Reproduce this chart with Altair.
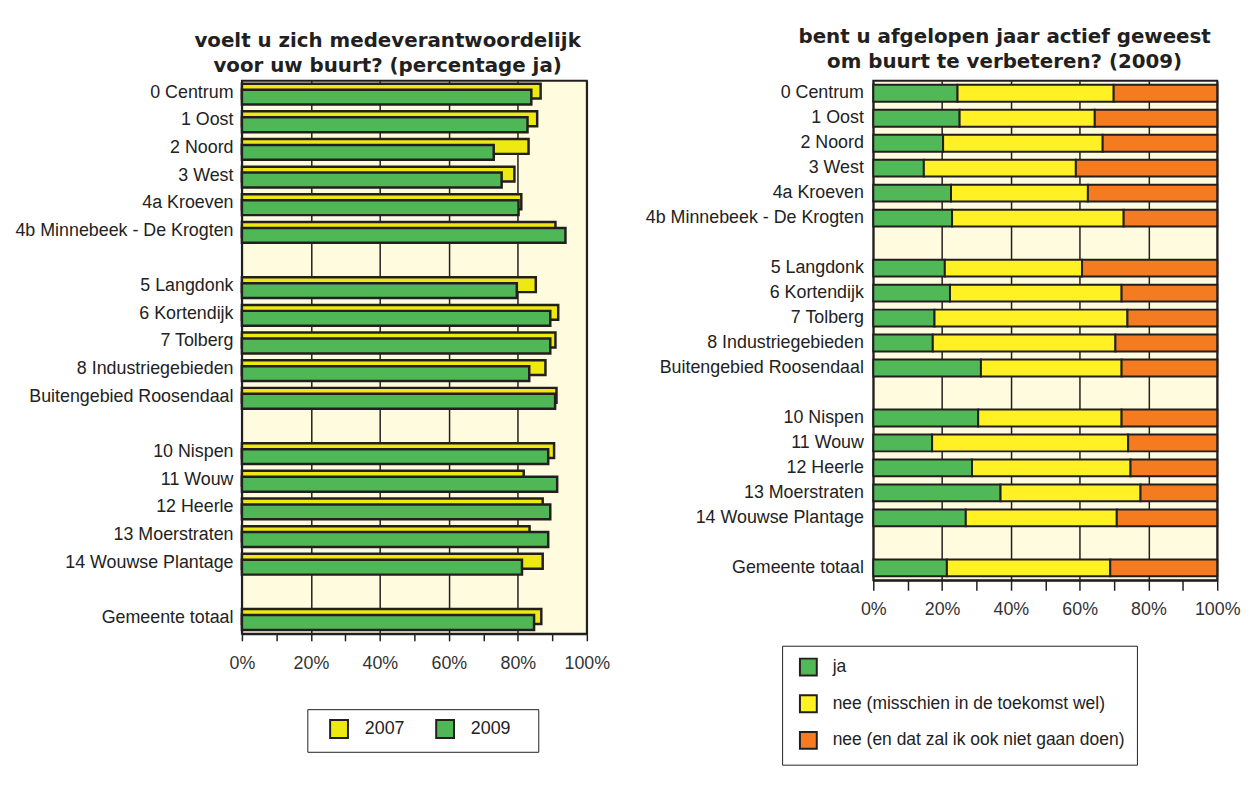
import altair as alt
import pandas as pd

FONT = "Liberation Sans"
TFONT = "DejaVu Sans"
INK = "#231f20"

# rows of both charts (blank strings are the empty separator rows)
areas = ["0 Centrum", "1 Oost", "2 Noord", "3 West", "4a Kroeven",
         "4b Minnebeek - De Krogten", " ",
         "5 Langdonk", "6 Kortendijk", "7 Tolberg", "8 Industriegebieden",
         "Buitengebied Roosendaal", "  ",
         "10 Nispen", "11 Wouw", "12 Heerle", "13 Moerstraten",
         "14 Wouwse Plantage", "   ", "Gemeente totaal"]
labeled = [a for a in areas if a.strip()]

# left: percentage "ja"
years = ["2007", "2009"]
v2007 = [86.6, 85.6, 83.1, 79.0, 81.0, 90.9, 85.2, 91.7, 90.9, 88.0, 91.2,
         90.5, 81.7, 87.2, 83.4, 87.2, 86.8]
v2009 = [83.9, 82.8, 73.0, 75.3, 80.2, 93.8, 79.7, 89.4, 89.4, 83.3, 90.8,
         88.8, 91.4, 89.4, 88.8, 81.2, 84.7]

# right: active in 2009
answers = ["ja", "nee (misschien in de toekomst wel)",
           "nee (en dat zal ik ook niet gaan doen)"]
ja = [24.5, 25.1, 20.3, 14.7, 22.6, 22.9, 20.8, 22.3, 17.8, 17.3, 31.3,
      30.5, 17.1, 28.7, 37.0, 26.9, 21.4]
nee_later = [45.4, 39.3, 46.4, 44.2, 39.8, 49.9, 39.9, 49.9, 56.1, 53.1, 40.9,
             41.7, 57.0, 46.1, 40.7, 43.9, 47.5]
nee_never = [30.1, 35.6, 33.3, 41.1, 37.6, 27.2, 39.3, 27.8, 26.1, 29.6, 27.8,
             27.8, 25.9, 25.2, 22.3, 29.2, 31.1]

x_ticks = list(range(0, 101, 10))

left_df = pd.DataFrame({
    "area": labeled * 2,
    "year": ["2007"] * len(labeled) + ["2009"] * len(labeled),
    "value": v2007 + v2009,
})
rows = []
for i, a in enumerate(labeled):
    for k, (ans, vals) in enumerate(zip(answers, [ja, nee_later, nee_never])):
        rows.append({"area": a, "answer": ans, "idx": k, "value": vals[i]})
right_df = pd.DataFrame(rows)


def xaxis(tick, pad):
    return alt.Axis(
        values=x_ticks,
        labelExpr="datum.value % 20 == 0 ? datum.value + '%' : ''",
        labelFlush=False, labelFontSize=18, labelFont=FONT, labelColor="#333",
        tickColor=INK, tickWidth=1.5, tickSize=tick, labelPadding=pad,
        domainColor=INK, domainWidth=2,
        gridColor=INK, gridWidth=1.5,
        gridOpacity={"condition": {"test": "datum.value % 20 === 0", "value": 1}, "value": 0},
        title=None,
    )


def yaxis(pad, extent, loff):
    return alt.Axis(title=None, ticks=False, domain=False, labelFontSize=18,
                    labelFont=FONT, labelColor="#222", labelPadding=pad,
                    labelOffset=loff,
                    minExtent=extent, maxExtent=extent, labelLimit=400)


# ---------- left chart ----------
yl = alt.Y("area:N", scale=alt.Scale(domain=areas, paddingInner=0, paddingOuter=0),
           axis=yaxis(9, 229, -2))
xl = alt.X("value:Q", scale=alt.Scale(domain=[0, 100], nice=False), axis=xaxis(7, 14))
color_l = alt.Color(
    "year:N",
    scale=alt.Scale(domain=years, range=["#EEE911", "#50B757"]),
    legend=alt.Legend(
        title=" ", titleOrient="right", titleFontSize=1, titlePadding=18,
        orient="none", legendX=66, legendY=634, direction="horizontal",
        symbolType="square", symbolSize=324, symbolStrokeColor=INK,
        symbolStrokeWidth=2, symbolOpacity=1, labelFontSize=18, labelFont=FONT,
        labelColor="#222", labelOffset=16, columnPadding=18, padding=10,
        symbolOffset=12, strokeColor=INK, fillColor="white",
    ),
)
base_l = alt.Chart(left_df)
b07 = base_l.transform_filter("datum.year == '2007'").mark_bar(
    size=15, yOffset=-3.5, stroke=INK, strokeWidth=2.5, opacity=1
).encode(x=xl, y=yl, color=color_l)
b09 = base_l.transform_filter("datum.year == '2009'").mark_bar(
    size=15, yOffset=2.5, stroke=INK, strokeWidth=2.5, opacity=1
).encode(x=xl, y=yl, color=color_l)
left = alt.layer(b07, b09).properties(
    width=348, height=558,
    title=alt.Title(["voelt u zich medeverantwoordelijk", "voor uw buurt? (percentage ja)"],
                    font=TFONT, fontSize=20, fontWeight="bold", color=INK,
                    lineHeight=25, anchor="middle", dx=-27, offset=5),
)

# ---------- right chart ----------
yr = alt.Y("area:N", scale=alt.Scale(domain=areas, paddingInner=0, paddingOuter=0),
           axis=yaxis(10, 225, 0))
right = alt.Chart(right_df).mark_bar(size=17, stroke=INK, strokeWidth=2, opacity=1).encode(
    x=alt.X("value:Q", stack="zero", scale=alt.Scale(domain=[0, 100], nice=False),
            axis=xaxis(10, 10)),
    y=yr,
    color=alt.Color(
        "answer:N",
        scale=alt.Scale(domain=answers, range=["#50B857", "#FFF124", "#F47B20"]),
        legend=alt.Legend(
            title=None, orient="none", legendX=-92, legendY=570, direction="vertical",
            symbolType="square", symbolSize=289, symbolStrokeColor=INK,
            symbolStrokeWidth=2, symbolOpacity=1, labelFontSize=17.6, labelFont=FONT,
            labelColor="#222", labelOffset=15, rowPadding=12, padding=12,
            symbolOffset=5, strokeColor=INK, fillColor="white", labelLimit=500,
        ),
    ),
    order=alt.Order("idx:Q"),
).properties(
    width=347, height=504,
    title=alt.Title(["bent u afgelopen jaar actief geweest", "om buurt te verbeteren? (2009)"],
                    font=TFONT, fontSize=20, fontWeight="bold", color=INK,
                    lineHeight=25, anchor="middle", dx=-41, offset=9),
)

chart = alt.hconcat(left, right, spacing=32).resolve_scale(
    color="independent"
).resolve_legend(color="independent").configure_view(
    fill="#FFFBDF", stroke=INK, strokeWidth=2
).properties(
    padding={"top": 15, "left": 5, "right": 0, "bottom": 5},
    background="white",
)

chart.save("out.html", embed_options={"renderer": "svg", "actions": False})
